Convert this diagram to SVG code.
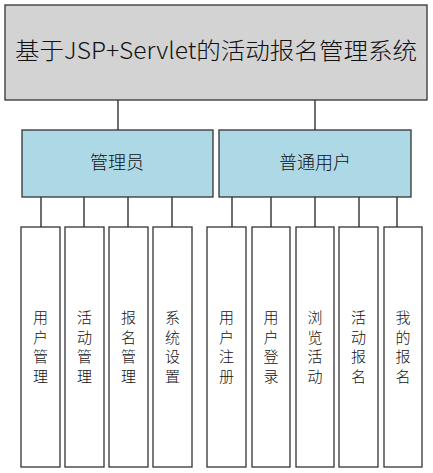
<svg xmlns="http://www.w3.org/2000/svg" width="433" height="473" viewBox="0 0 433 473">
<style>
.box{stroke:#333;stroke-width:1.3}
.root{fill:#d3d3d3}
.mid{fill:#add8e6}
.leaf{fill:#fff}
.t{font-family:"Microsoft YaHei","Noto Sans CJK SC","Noto Sans",sans-serif;font-weight:300;fill:#111;text-anchor:middle}
.c{stroke:#222;stroke-width:1.3;fill:none}
</style>
<rect width="433" height="473" fill="#fff"/>
<g id="connectors">
<path class="c" d="M118 100V130M315 100V130M41 197V227M84 197V227M128 197V227M172 197V227M232 197V227M271 197V227M315 197V227M359 197V227M397 197V227"/>
</g>
<g id="root">
<rect class="box root" x="5" y="5" width="422" height="95"/>
<text class="t" x="216" y="59" font-size="23" textLength="402" lengthAdjust="spacingAndGlyphs">基于JSP+Servlet的活动报名管理系统</text>
</g>
<g id="admin">
<rect class="box mid" x="22" y="130" width="191" height="67"/>
<text class="t" x="117" y="169" font-size="18">管理员</text>
</g>
<g id="user">
<rect class="box mid" x="219" y="130" width="192" height="67"/>
<text class="t" x="315" y="169" font-size="18">普通用户</text>
</g>
<g id="leaf1"><rect class="box leaf" x="21" y="227" width="39" height="240"/>
<text class="t" x="40.5" y="323" font-size="15"><tspan x="40.5">用</tspan><tspan x="40.5" dy="19.5">户</tspan><tspan x="40.5" dy="19.5">管</tspan><tspan x="40.5" dy="19.5">理</tspan></text></g>
<g id="leaf2"><rect class="box leaf" x="65" y="227" width="39" height="240"/>
<text class="t" x="84.5" y="323" font-size="15"><tspan x="84.5">活</tspan><tspan x="84.5" dy="19.5">动</tspan><tspan x="84.5" dy="19.5">管</tspan><tspan x="84.5" dy="19.5">理</tspan></text></g>
<g id="leaf3"><rect class="box leaf" x="109" y="227" width="39" height="240"/>
<text class="t" x="128.5" y="323" font-size="15"><tspan x="128.5">报</tspan><tspan x="128.5" dy="19.5">名</tspan><tspan x="128.5" dy="19.5">管</tspan><tspan x="128.5" dy="19.5">理</tspan></text></g>
<g id="leaf4"><rect class="box leaf" x="153" y="227" width="39" height="240"/>
<text class="t" x="172.5" y="323" font-size="15"><tspan x="172.5">系</tspan><tspan x="172.5" dy="19.5">统</tspan><tspan x="172.5" dy="19.5">设</tspan><tspan x="172.5" dy="19.5">置</tspan></text></g>
<g id="leaf5"><rect class="box leaf" x="207" y="227" width="39" height="240"/>
<text class="t" x="226.5" y="323" font-size="15"><tspan x="226.5">用</tspan><tspan x="226.5" dy="19.5">户</tspan><tspan x="226.5" dy="19.5">注</tspan><tspan x="226.5" dy="19.5">册</tspan></text></g>
<g id="leaf6"><rect class="box leaf" x="252" y="227" width="38" height="240"/>
<text class="t" x="271" y="323" font-size="15"><tspan x="271">用</tspan><tspan x="271" dy="19.5">户</tspan><tspan x="271" dy="19.5">登</tspan><tspan x="271" dy="19.5">录</tspan></text></g>
<g id="leaf7"><rect class="box leaf" x="296" y="227" width="38" height="240"/>
<text class="t" x="315" y="323" font-size="15"><tspan x="315">浏</tspan><tspan x="315" dy="19.5">览</tspan><tspan x="315" dy="19.5">活</tspan><tspan x="315" dy="19.5">动</tspan></text></g>
<g id="leaf8"><rect class="box leaf" x="339" y="227" width="39" height="240"/>
<text class="t" x="358.5" y="323" font-size="15"><tspan x="358.5">活</tspan><tspan x="358.5" dy="19.5">动</tspan><tspan x="358.5" dy="19.5">报</tspan><tspan x="358.5" dy="19.5">名</tspan></text></g>
<g id="leaf9"><rect class="box leaf" x="384" y="227" width="38" height="240"/>
<text class="t" x="403" y="323" font-size="15"><tspan x="403">我</tspan><tspan x="403" dy="19.5">的</tspan><tspan x="403" dy="19.5">报</tspan><tspan x="403" dy="19.5">名</tspan></text></g>
</svg>
